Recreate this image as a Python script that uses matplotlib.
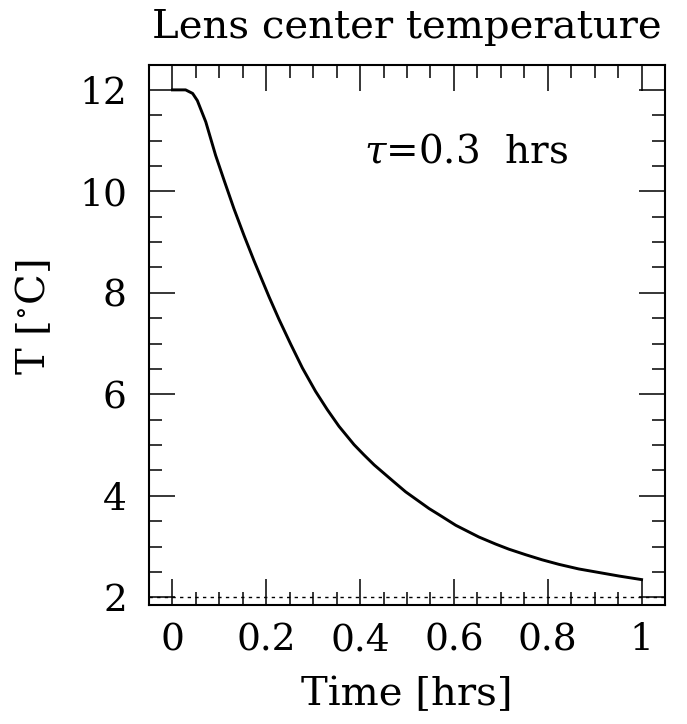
import numpy as np
import matplotlib
matplotlib.use("Agg")
import matplotlib.pyplot as plt
from matplotlib.ticker import MultipleLocator

# values
time_hrs = [0.0, 0.028, 0.043, 0.053, 0.071, 0.092, 0.110, 0.131, 0.153,
            0.174, 0.192, 0.206, 0.227, 0.252, 0.277, 0.305, 0.330, 0.355,
            0.387, 0.408, 0.430, 0.469, 0.497, 0.547, 0.568, 0.604, 0.653,
            0.689, 0.717, 0.753, 0.788, 0.824, 0.866, 0.909, 0.952, 1.0]
temp_c = [12.0, 12.0, 11.93, 11.79, 11.37, 10.71, 10.22, 9.66, 9.12,
          8.63, 8.23, 7.92, 7.48, 6.99, 6.52, 6.06, 5.70, 5.37,
          5.01, 4.81, 4.61, 4.30, 4.08, 3.75, 3.63, 3.42, 3.19,
          3.05, 2.95, 2.84, 2.74, 2.65, 2.56, 2.49, 2.42, 2.35]
t_ambient = 2.0
x_ticks = [0, 0.2, 0.4, 0.6, 0.8, 1]
x_ticklabels = ["0", "0.2", "0.4", "0.6", "0.8", "1"]
y_ticks = [2, 4, 6, 8, 10, 12]

plt.rcParams['font.family'] = ['DejaVu Serif']
plt.rcParams['mathtext.fontset'] = 'dejavuserif'

fig = plt.figure(figsize=(6.87, 7.24), dpi=100)
ax = fig.add_axes([0.2169, 0.1637, 0.7511, 0.7465])

ax.plot(time_hrs, temp_c, color='black', lw=2.1, solid_joinstyle='round')
ax.axhline(t_ambient, color='black', lw=1.0, linestyle=(0, (2.4, 3.1)))

ax.set_xlim(-0.05, 1.05)
ax.set_ylim(1.84, 12.49)

ax.xaxis.set_minor_locator(MultipleLocator(0.05))
ax.yaxis.set_minor_locator(MultipleLocator(0.5))
ax.set_xticks(x_ticks)
ax.set_xticklabels(x_ticklabels)
ax.set_yticks(y_ticks)

ax.tick_params(which='both', direction='in', top=True, right=True, width=1.1)
ax.tick_params(which='major', length=18.5, labelsize=27)
ax.tick_params(which='minor', length=9.3)
ax.tick_params(axis='x', which='major', pad=12)
ax.tick_params(axis='y', which='major', pad=16)
for s in ax.spines.values():
    s.set_linewidth(1.5)

ax.set_title("Lens center temperature", fontsize=29, pad=19.5)
ax.set_xlabel("Time [hrs]", fontsize=29)
ax.xaxis.set_label_coords(0.5, -0.13)
ax.set_ylabel("T [$^{\\circ}$C]", fontsize=29)
ax.yaxis.set_label_coords(-0.185, 0.533)
ax.text(0.626, 10.555, "$\\tau$=0.3  hrs", fontsize=28, ha='center', va='baseline')

fig.savefig("out.png", dpi=100)
